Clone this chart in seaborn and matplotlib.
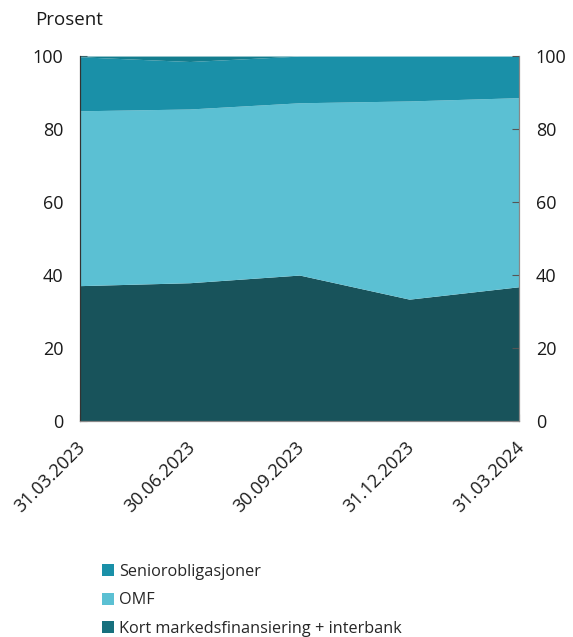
import numpy as np
import pandas as pd
import seaborn as sns
import matplotlib.pyplot as plt
import matplotlib.transforms as mtransforms
from matplotlib.patches import Patch

# data (prosent)
datoer = ['31.03.2023', '30.06.2023', '30.09.2023', '31.12.2023', '31.03.2024']
kort = [37.1, 37.9, 40.0, 33.4, 36.8]
omf = [47.9, 47.6, 47.2, 54.3, 51.8]
senior = [14.8, 13.0, 12.8, 12.3, 11.4]
annet = [0.2, 1.5, 0.0, 0.0, 0.0]

serier = ['Seniorobligasjoner', 'OMF', 'Kort markedsfinansiering + interbank']
farger_area = ['#18535b', '#5bc0d3', '#1a90a8', '#137d8e']
farger_legend = ['#1a90a8', '#5bc0d3', '#17707d']

df = pd.DataFrame({'dato': datoer, 'kort': kort, 'omf': omf,
                   'senior': senior, 'annet': annet})

sns.set_style('ticks')
plt.rcParams['font.family'] = ['Open Sans', 'DejaVu Sans']
fs = 13

fig = plt.figure(figsize=(5.73, 6.37), dpi=100)
ax = fig.add_axes([0.1396, 0.339, 0.7662, 0.573])

x = np.arange(len(df))
ax.stackplot(x, df['kort'], df['omf'], df['senior'], df['annet'],
             colors=farger_area, linewidth=0)

ax.set_xlim(0, len(df) - 1)
ax.set_ylim(0, 100)
ax.set_yticks(range(0, 101, 20))
ax.set_xticks(x)
ax.set_xticklabels(df['dato'], rotation=45, ha='right', rotation_mode='anchor')
ax.tick_params(axis='both', direction='in', length=5, color='#555555',
               labelsize=fs, labelcolor='#1a1a1a')
ax.tick_params(axis='y', pad=12)
ax.tick_params(axis='x', pad=12)
offset = mtransforms.ScaledTranslation(-4 / 100, 0, fig.dpi_scale_trans)
for lbl in ax.get_xticklabels():
    lbl.set_transform(lbl.get_transform() + offset)

ax2 = ax.twinx()
ax2.set_ylim(0, 100)
ax2.set_yticks(range(0, 101, 20))
ax2.tick_params(axis='y', direction='in', length=5, color='#555555',
                labelsize=fs, labelcolor='#1a1a1a', pad=12)

for a in (ax, ax2):
    a.spines['top'].set_visible(False)
    a.spines['left'].set_color('#333333')
    a.spines['right'].set_color('#888888')
    a.spines['bottom'].set_color('#888888')

fig.text(0.061, 0.968, 'Prosent', fontsize=13.5, color='#1a1a1a', va='center')

handles = [Patch(facecolor=c, edgecolor='none') for c in farger_legend]
fig.legend(handles, serier, loc='upper left', bbox_to_anchor=(0.178, 0.115),
           frameon=False, fontsize=11.7, handlelength=0.75, handleheight=0.75,
           handletextpad=0.3, labelspacing=0.78, borderaxespad=0, borderpad=0)

fig.savefig('out.png', dpi=100)
